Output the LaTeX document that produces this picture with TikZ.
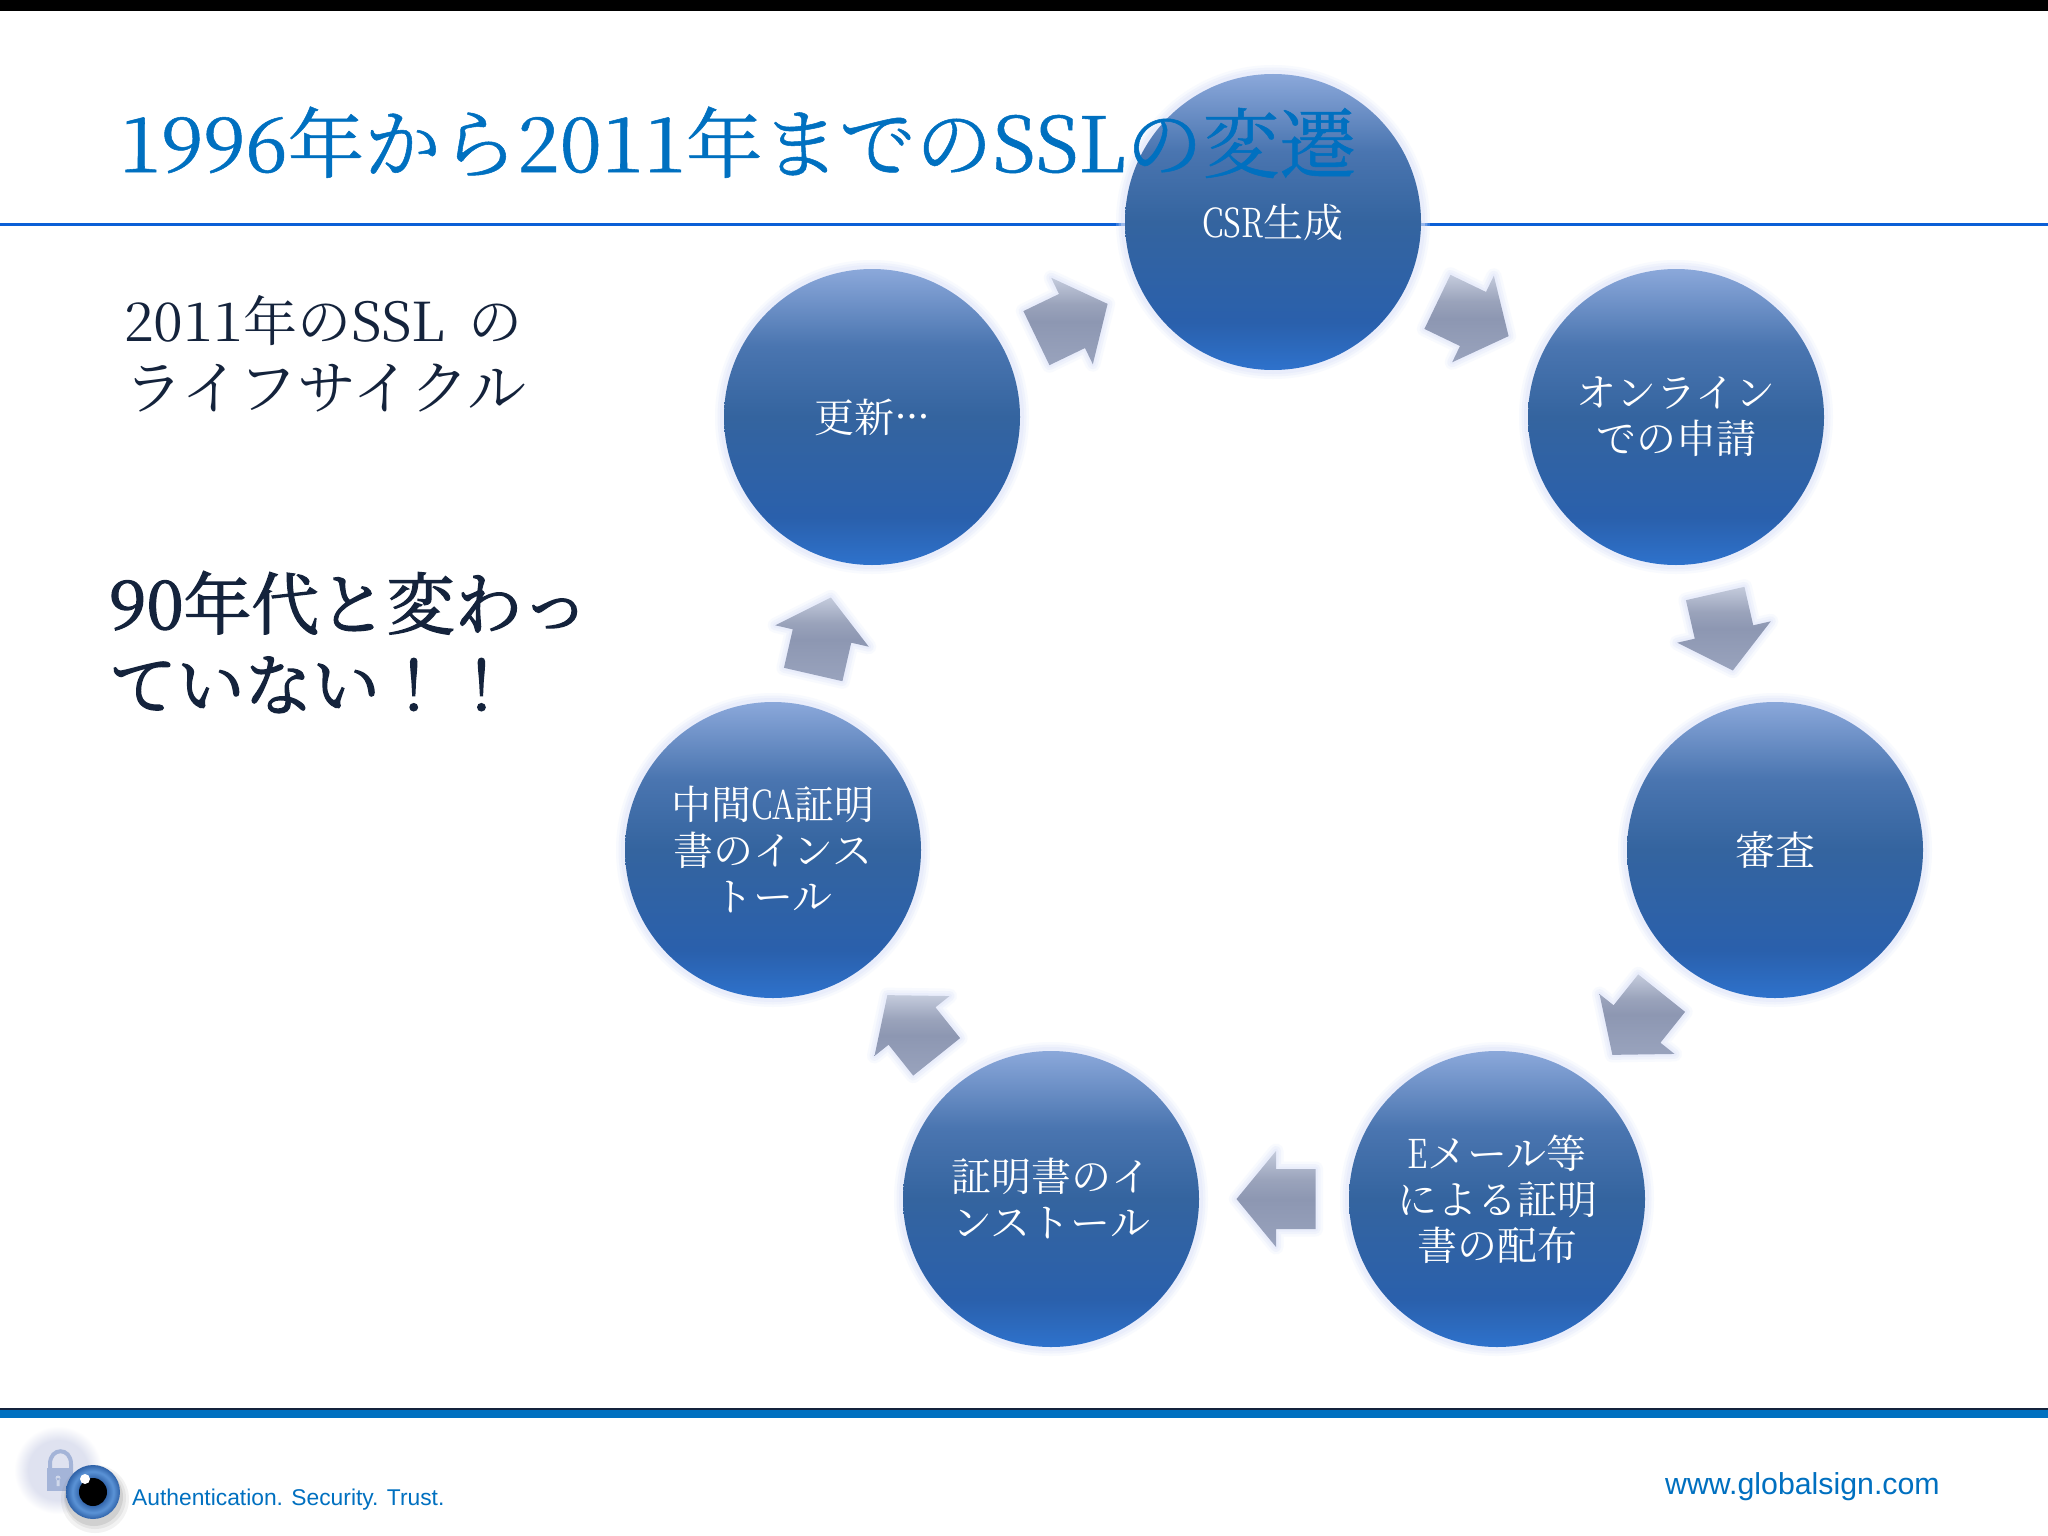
\documentclass[tikz,border=0pt]{standalone}
\usepackage{fontspec}
\usetikzlibrary{calc}
\setmainfont{Noto Serif CJK JP}
\newfontfamily\latinsans{Liberation Sans}
\newfontfamily\narrowfont[FakeStretch=0.78]{Noto Serif CJK JP}
\newfontfamily\titlefont[FakeBold=0.7]{Noto Serif CJK JP}
\newfontfamily\claimfont[FakeBold=2]{Noto Serif CJK JP}
\newcommand{\nar}[1]{{\narrowfont #1}}
\definecolor{titleblue}{HTML}{0070C0}
\definecolor{ruleblue}{HTML}{0B5FD6}
\definecolor{navy}{HTML}{14233C}
\definecolor{halo}{HTML}{DFE6FA}
\definecolor{locka}{HTML}{A4B4D8}
\definecolor{discc}{HTML}{DFE2F0}
\definecolor{irisd}{HTML}{2F62A8}
\definecolor{irisl}{HTML}{5B93D6}
\definecolor{cs}{HTML}{2E72CC}
\definecolor{cb}{HTML}{2A60AC}
\definecolor{cc}{HTML}{34649F}
\definecolor{cd}{HTML}{4A75B0}
\definecolor{ce}{HTML}{8BA8DA}
\definecolor{aa}{HTML}{99A3BD}
\definecolor{ab}{HTML}{8D97B2}
\definecolor{ac}{HTML}{9AA3BB}
\definecolor{ad}{HTML}{C4CBDC}
\pgfdeclareverticalshading{circshade}{100bp}{
  color(0bp)=(cs);
  color(25bp)=(cs);
  color(33bp)=(cb);
  color(50bp)=(cc);
  color(62bp)=(cd);
  color(75bp)=(ce);
  color(100bp)=(ce)}
\pgfdeclareverticalshading{arrowshade}{100bp}{
  color(0bp)=(aa);
  color(25bp)=(aa);
  color(50bp)=(ab);
  color(60bp)=(ac);
  color(75bp)=(ad);
  color(100bp)=(ad)}
\pgfdeclareradialshading{eyeshade}{\pgfpoint{0bp}{0bp}}{
  color(0bp)=(irisd);
  color(12bp)=(irisd);
  color(19bp)=(irisl);
  color(25bp)=(irisd);
  color(50bp)=(irisd)}
\pgfdeclareradialshading{discshade}{\pgfpoint{0bp}{0bp}}{
  color(0bp)=(discc);
  color(17bp)=(discc);
  color(25bp)=(white);
  color(50bp)=(white)}
\newcommand{\ringarrow}[3]{%
  \path[ringarrowstyle,shift={(#1,#2)},rotate=#3]
    (39.5,0) -- (0,48) -- (0,30) -- (-39.5,30) -- (-39.5,-30) -- (0,-30) -- (0,-48) -- cycle;}
\tikzset{
  x=1pt,y=-1pt,
  cyclenode/.style={circle,minimum size=296pt,inner sep=0pt,shading=circshade,text=white,align=center,
    font=\fontsize{40}{46}\selectfont,
    preaction={draw=halo,line width=18pt,opacity=.2},
    preaction={draw=halo,line width=13pt,opacity=.3},
    preaction={draw=halo,line width=8pt,opacity=.4}},
  ringarrowstyle/.style={shading=arrowshade,
    preaction={draw=halo,line width=15pt,line join=round,opacity=.2},
    preaction={draw=halo,line width=10pt,line join=round,opacity=.3},
    preaction={draw=halo,line width=5pt,line join=round,opacity=.4}},
  titletext/.style={text=titleblue,font=\titlefont\fontsize{76.6}{80}\selectfont,anchor=base west,inner sep=0pt},
  sidetext/.style={text=navy,anchor=north west,align=left,inner sep=0pt},
  foottext/.style={text=titleblue,anchor=base west,inner sep=0pt},
}
\begin{document}
\begin{tikzpicture}
\path[use as bounding box,fill=white] (0,0) rectangle (2048,1536);
% frame
\fill[black] (0,0) rectangle (2048,11);
\draw[ruleblue,line width=3pt] (0,224) -- (2048,224);
\fill[navy] (0,1408) rectangle (2048,1410);
\fill[titleblue] (0,1410) rectangle (2048,1418);
% cycle
\node[cyclenode] (csr) at (1273,222) {\nar{CSR}生成};
\node[cyclenode] (online) at (1676,417) {オンライン\\での申請};
\node[cyclenode] (review) at (1775,850) {審査};
\node[cyclenode] (mail) at (1497,1199) {\nar{E}メール等\\による証明\\書の配布};
\node[cyclenode] (inst) at (1051,1199) {証明書のイ\\ンストール};
\node[cyclenode] (ca) at (773,850) {中間\nar{CA}証明\\書のインス\\トール};
\node[cyclenode] (renew) at (872,417) {更新\smash{\raisebox{14pt}{…}}};
% arrows
\ringarrow{1473}{319}{-25.7}
\ringarrow{1724}{632}{-77.1}
\ringarrow{1637}{1024}{-128.6}
\ringarrow{1276}{1199}{180}
\ringarrow{912}{1026}{128.6}
\ringarrow{822}{636}{77.1}
\ringarrow{1072}{321}{25.7}
% title and side text
\node[titletext] (title) at (119,172) {1996年から2011年までのSSLの変遷};
\node[sidetext,font=\fontsize{54}{67}\selectfont] (sub) at (124,295) {2011年のSSL\hspace{23pt}の};
\node[sidetext,font=\fontsize{59}{67}\selectfont] (sub2) at (124,364) {ライフサイクル};
\node[sidetext,font=\claimfont\fontsize{67.7}{81}\selectfont] (claim) at (109,571) {90年代と変わっ\\ていない！！};
% logo
\shade[shading=discshade] (58,1470) circle (44);
\draw[locka,line width=4pt] (50,1472) -- (50,1464) .. controls (50,1447) and (71,1447) .. (71,1464) -- (71,1472);
\fill[locka] (47,1468) rectangle (73,1491);
\fill[white,opacity=.5] (58,1478) circle (2.5) (56.5,1478) rectangle (59.5,1486);
\fill[gray,opacity=.1] (95,1499) circle (34);
\fill[gray,opacity=.12] (95,1498) circle (31);
\fill[gray,opacity=.2] (94,1497) circle (29);
\shade[shading=eyeshade] (93,1492) circle (27);
\fill[black] (93,1492) circle (14);
\fill[white] (85,1479) circle (5);
\node[foottext,font=\latinsans\fontsize{22.8}{28}\selectfont] (slogan) at (132,1505) {Authentication. Security. Trust.};
\node[foottext,font=\latinsans\fontsize{30.3}{32}\selectfont] (url) at (1665,1494) {www.globalsign.com};
\end{tikzpicture}
\end{document}
